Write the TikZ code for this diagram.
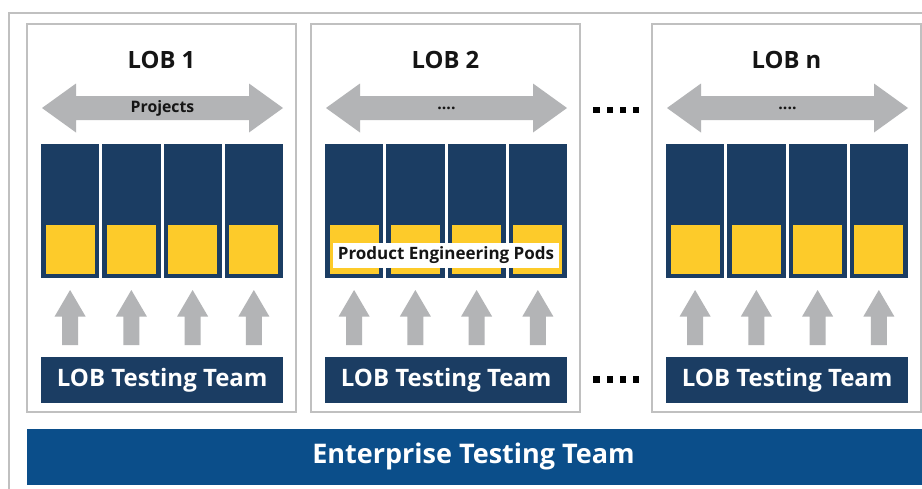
\documentclass[tikz,border=0pt]{standalone}
\usepackage{fontspec}
\setmainfont{Open Sans}
\definecolor{navy}{HTML}{1B3D63}
\definecolor{podyellow}{HTML}{FDCB2A}
\definecolor{arrowgray}{HTML}{B3B4B6}
\definecolor{framegray}{HTML}{C0C0C0}
\definecolor{entblue}{HTML}{0B4E8A}
\definecolor{txtdark}{HTML}{151515}
\newcommand{\fourdots}{....}
\tikzset{
  x=1pt, y=-1pt,
  lobbox/.style={draw=framegray, line width=1.8pt, fill=white},
  podcol/.style={fill=navy},
  podcore/.style={fill=podyellow},
  teambox/.style={fill=navy, text=white, font=\bfseries\fontsize{24}{28}\selectfont, inner sep=0pt},
  titletext/.style={text=txtdark, font=\bfseries\fontsize{23.8}{28}\selectfont, inner sep=0pt},
  smalltext/.style={text=txtdark, font=\bfseries\fontsize{15.8}{18}\selectfont, inner sep=0pt},
  podlabel/.style={text=txtdark, font=\bfseries\fontsize{17}{20}\selectfont, inner sep=0pt},
  bigarrow/.style={fill=arrowgray},
  dotsq/.style={fill=black},
}
\begin{document}
\begin{tikzpicture}
\useasboundingbox (0,0) rectangle (922,488);
\clip (0,0) rectangle (922,488);
\fill[white] (0,0) rectangle (922,488);
% outer frame
\draw[framegray, line width=1.5pt] (9,500) -- (9,13) -- (940,13);
% LOB boxes
\foreach \x/\name/\lab/\arr in {27/lobA/{LOB 1}/{Projects}, 311/lobB/{LOB 2}/{\fourdots}, 652/lobN/{LOB n}/{\fourdots}}{
  \begin{scope}[shift={(\x,0)}]
    \draw[lobbox] (0,24) rectangle (269,412);
    \node[titletext] (\name-title) at (134.5,60) {\lab};
    % double arrow
    \fill[bigarrow] (15,108) -- (49,83.5) -- (49,96) -- (222,96) -- (222,83.5)
       -- (256,108) -- (222,132.5) -- (222,120) -- (49,120) -- (49,132.5) -- cycle;
    \node[smalltext] (\name-arrow) at (135.5,108) {\arr};
    % pods
    \foreach \i in {0,1,2,3}{
      \pgfmathsetmacro{\cx}{14+\i*61.25}
      \fill[podcol] (\cx,144) rectangle ++(58.25,133.5);
      \fill[podcore] ({\cx+4.6},225) rectangle ++(49,48.7);
      \pgfmathsetmacro{\mx}{\cx+29.1}
      \fill[bigarrow] (\mx,290) -- ({\mx+15.5},316.5) -- ({\mx+8},316.5) -- ({\mx+8},345)
        -- ({\mx-8},345) -- ({\mx-8},316.5) -- ({\mx-15.5},316.5) -- cycle;
    }
    \node[teambox, minimum width=242pt, minimum height=46pt, anchor=north west] (\name-team) at (14,357) {LOB Testing Team};
  \end{scope}
}
% product engineering pods label
\node[podlabel, fill=white, minimum width=226pt, minimum height=25pt] (pods) at (446,255.5) {Product Engineering Pods};
% dots between LOB 2 and LOB n
\foreach \k in {0,1,2,3}{
  \fill[dotsq] ({593.3+\k*13.2},106.8) rectangle ++(6.2,6.4);
  \fill[dotsq] ({593.3+\k*13.2},376.4) rectangle ++(6.2,6.4);
}
% enterprise bar
\node[fill=entblue, minimum width=910pt, minimum height=56pt, inner sep=0pt, anchor=north west] (ent) at (27,429) {};
\node[text=white, font=\bfseries\fontsize{27}{31}\selectfont, inner sep=0pt] (entlabel) at (473.5,456) {Enterprise Testing Team};
\end{tikzpicture}
\end{document}
